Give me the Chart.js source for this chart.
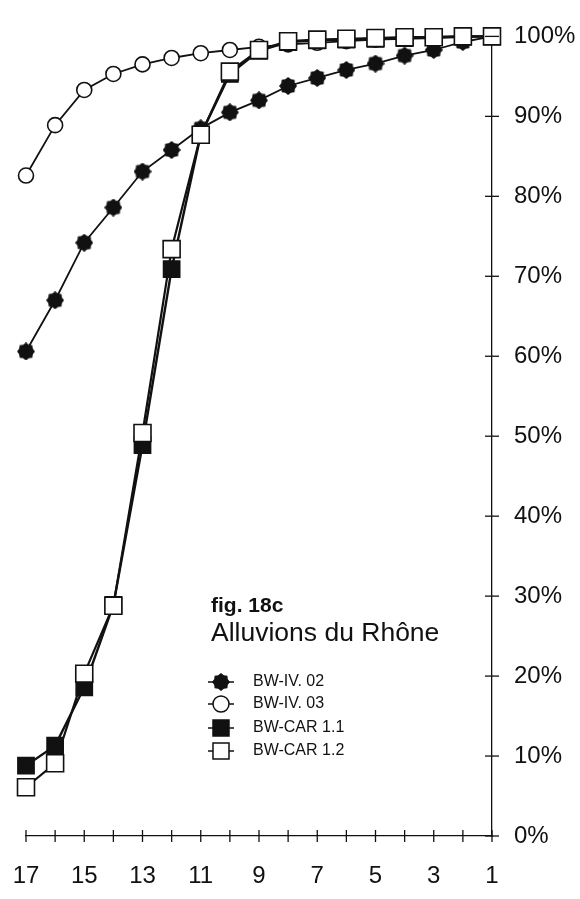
<!DOCTYPE html>
<html>
<head>
<meta charset="utf-8">
<script src="https://cdn.jsdelivr.net/npm/chart.js@4"></script>
<style>
  html, body { margin: 0; padding: 0; background: #fff; }
  canvas { display: block; }
</style>
</head>
<body>
<canvas id="grainChart" width="580" height="899"></canvas>
<script>
// fractions on the x axis, read right to left
const steps = [17, 16, 15, 14, 13, 12, 11, 10, 9, 8, 7, 6, 5, 4, 3, 2, 1];

// cumulative percentages per sample
const bwIV02 = [60.6, 67.0, 74.2, 78.6, 83.1, 85.8, 88.5, 90.5, 92.0, 93.8, 94.8, 95.8, 96.6, 97.6, 98.3, 99.3, 100];
const bwIV03 = [82.6, 88.9, 93.3, 95.3, 96.5, 97.3, 97.9, 98.3, 98.7, 99.0, 99.2, 99.4, 99.6, 99.7, 99.8, 99.9, 100];
const bwCAR11 = [8.8, 11.3, 18.6, 28.9, 48.9, 70.9, 87.7, 95.3, 98.2, 99.3, 99.5, 99.6, 99.7, 99.8, 99.9, 100, 100];
const bwCAR12 = [6.1, 9.1, 20.3, 28.8, 50.4, 73.4, 87.7, 95.6, 98.3, 99.4, 99.6, 99.7, 99.8, 99.9, 99.9, 100, 100];

const seriesNames = ["BW-IV. 02", "BW-IV. 03", "BW-CAR 1.1", "BW-CAR 1.2"];
const figTitle = "fig. 18c";
const figSubtitle = "Alluvions du Rhône";

const FONT = "'Liberation Sans', Arial, Helvetica, sans-serif";
const INK = "#111";

// filled gear-like marker used for BW-IV. 02
function makeStar(size) {
  const c = document.createElement("canvas");
  c.width = size;
  c.height = size;
  const g = c.getContext("2d");
  const cx = size / 2, cy = size / 2;
  const outer = size / 2, inner = size / 2 - 1.6;
  g.beginPath();
  for (let i = 0; i < 16; i++) {
    const r = i % 2 === 0 ? outer : inner;
    const a = (Math.PI * 2 * i) / 16 - Math.PI / 2;
    const px = cx + r * Math.cos(a), py = cy + r * Math.sin(a);
    if (i === 0) g.moveTo(px, py); else g.lineTo(px, py);
  }
  g.closePath();
  g.fillStyle = INK;
  g.fill();
  return c;
}
const starMark = makeStar(18);

function toPoints(values) {
  return steps.map((s, i) => ({ x: s, y: values[i] }));
}

// small crossing tick marks on both axes
const crossTicks = {
  id: "crossTicks",
  afterDraw(chart) {
    const { ctx, scales: { x, y }, chartArea } = chart;
    ctx.save();
    ctx.strokeStyle = INK;
    ctx.lineWidth = 1.3;
    for (let v = 1; v <= 17; v++) {
      const px = x.getPixelForValue(v);
      ctx.beginPath();
      ctx.moveTo(px, chartArea.bottom - 6);
      ctx.lineTo(px, chartArea.bottom + 6);
      ctx.stroke();
    }
    for (let v = 0; v <= 100; v += 10) {
      const py = y.getPixelForValue(v);
      ctx.beginPath();
      ctx.moveTo(chartArea.right - 7, py);
      ctx.lineTo(chartArea.right + 7, py);
      ctx.stroke();
    }
    ctx.restore();
  },
};

// caption and key inside the plot
const figKey = {
  id: "figKey",
  afterDraw(chart) {
    const ctx = chart.ctx;
    ctx.save();
    ctx.fillStyle = INK;
    ctx.textBaseline = "middle";
    ctx.textAlign = "left";
    ctx.font = "bold 21px " + FONT;
    ctx.fillText(figTitle, 211, 606);
    ctx.font = "26.5px " + FONT;
    ctx.fillText(figSubtitle, 211, 634);

    const rows = [682, 704, 728, 751];
    const mx = 221;
    chart.data.datasets.forEach((ds, i) => {
      const ry = rows[i];
      ctx.strokeStyle = INK;
      ctx.lineWidth = 1.5;
      ctx.beginPath();
      ctx.moveTo(mx - 13, ry);
      ctx.lineTo(mx + 13, ry);
      ctx.stroke();
      if (ds.pointStyle instanceof HTMLCanvasElement) {
        ctx.drawImage(ds.pointStyle, mx - ds.pointStyle.width / 2, ry - ds.pointStyle.height / 2);
      } else if (ds.pointStyle === "circle") {
        ctx.beginPath();
        ctx.arc(mx, ry, 8, 0, Math.PI * 2);
        ctx.fillStyle = "#fff";
        ctx.fill();
        ctx.stroke();
      } else {
        ctx.fillStyle = ds.pointBackgroundColor;
        ctx.fillRect(mx - 8, ry - 8, 16, 16);
        ctx.strokeRect(mx - 8, ry - 8, 16, 16);
      }
      ctx.fillStyle = INK;
      ctx.font = "16px " + FONT;
      ctx.fillText(seriesNames[i], 253, ry);
    });
    ctx.restore();
  },
};

const ctx = document.getElementById("grainChart").getContext("2d");
new Chart(ctx, {
  type: "line",
  data: {
    datasets: [
      {
        label: seriesNames[0],
        data: toPoints(bwIV02),
        borderColor: INK,
        borderWidth: 1.8,
        pointStyle: starMark,
        order: 4,
      },
      {
        label: seriesNames[1],
        data: toPoints(bwIV03),
        borderColor: INK,
        borderWidth: 1.8,
        pointStyle: "circle",
        pointRadius: 7.5,
        pointBorderWidth: 1.6,
        pointBackgroundColor: "#fff",
        pointBorderColor: INK,
        order: 3,
      },
      {
        label: seriesNames[2],
        data: toPoints(bwCAR11),
        borderColor: INK,
        borderWidth: 2.4,
        pointStyle: "rect",
        pointRadius: 11.5,
        pointBorderWidth: 1.5,
        pointBackgroundColor: INK,
        pointBorderColor: INK,
        order: 2,
      },
      {
        label: seriesNames[3],
        data: toPoints(bwCAR12),
        borderColor: INK,
        borderWidth: 2.2,
        pointStyle: "rect",
        pointRadius: 12,
        pointBorderWidth: 1.6,
        pointBackgroundColor: "#fff",
        pointBorderColor: INK,
        order: 1,
      },
    ],
  },
  options: {
    responsive: false,
    animation: false,
    devicePixelRatio: 1,
    clip: false,
    layout: { padding: { left: 26, right: 0, top: 33, bottom: 0 } },
    plugins: {
      legend: { display: false },
      tooltip: { enabled: false },
    },
    scales: {
      x: {
        type: "linear",
        reverse: true,
        min: 1,
        max: 17,
        afterFit: (scale) => {
          scale.height = 63;
          scale.paddingLeft = 0;
          scale.paddingRight = 0;
        },
        grid: { display: false, drawTicks: false },
        border: { display: true, color: INK, width: 1.3 },
        ticks: {
          stepSize: 1,
          autoSkip: false,
          maxRotation: 0,
          padding: 26,
          color: INK,
          font: { family: FONT, size: 24 },
          callback: (v) => (v % 2 === 1 ? String(v) : ""),
        },
      },
      y: {
        position: "right",
        min: 0,
        max: 100,
        afterFit: (scale) => { scale.width = 88; },
        grid: { display: false, drawTicks: false },
        border: { display: true, color: INK, width: 1.3 },
        ticks: {
          stepSize: 10,
          padding: 22,
          color: INK,
          font: { family: FONT, size: 24 },
          callback: (v) => v + "%",
        },
      },
    },
  },
  plugins: [crossTicks, figKey],
});
</script>
</body>
</html>
